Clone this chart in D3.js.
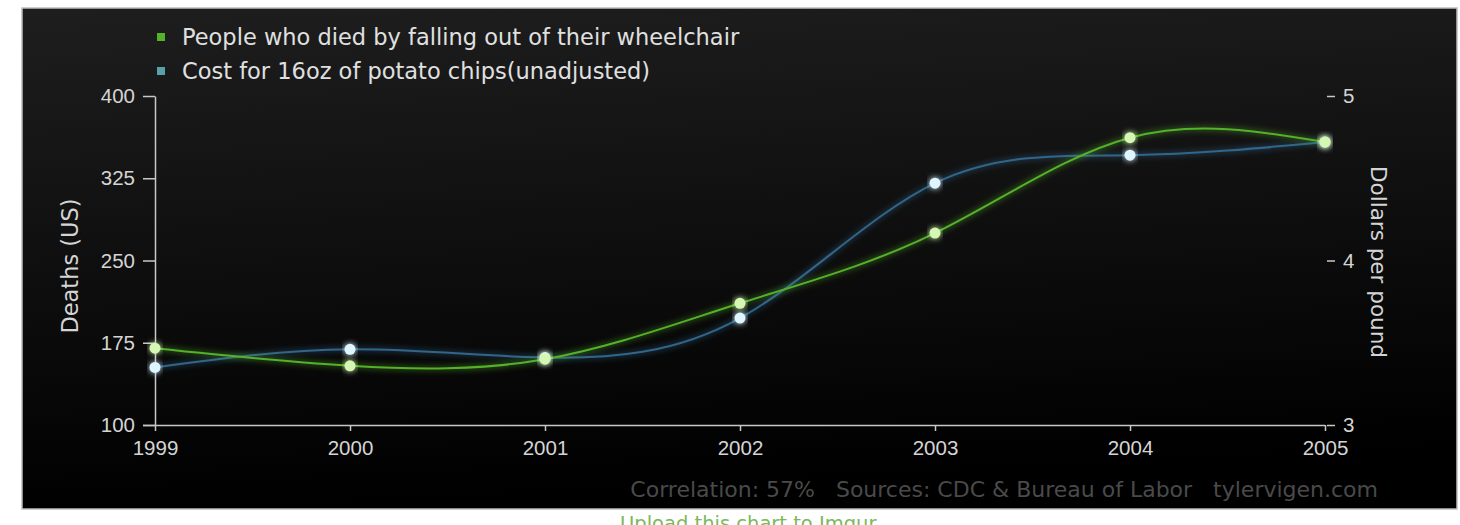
<!DOCTYPE html>
<html>
<head>
<meta charset="utf-8">
<script src="https://cdn.jsdelivr.net/npm/d3@7"></script>
<style>
  html, body { margin: 0; padding: 0; background: #fff; }
  svg { display: block; font-family: "DejaVu Sans", sans-serif; }
</style>
</head>
<body>
<svg id="chart"></svg>
<script>
// data
const years = [1999, 2000, 2001, 2002, 2003, 2004, 2005];
const deaths = [170, 154, 160, 211, 275, 362, 358];
const chipCost = [3.35, 3.46, 3.41, 3.65, 4.47, 4.64, 4.72];
const deathTicks = [100, 175, 250, 325, 400];
const costTicks = [3, 4, 5];
const legendLabels = ["People who died by falling out of their wheelchair", "Cost for 16oz of potato chips(unadjusted)"];
const footer = "Correlation: 57%   Sources: CDC & Bureau of Labor   tylervigen.com";

const width = 1460;
const height = 525;
const panel = { x: 22, y: 8, w: 1435, h: 501 };
const plotLeft = 155, plotRight = 1325, plotTop = 96, plotBottom = 425;

const green = "#55b02a", blue = "#30658a";

const svg = d3.select("#chart")
  .attr("width", width)
  .attr("height", height)
  .attr("viewBox", `0 0 ${width} ${height}`);

const defs = svg.append("defs");
const grad = defs.append("linearGradient")
  .attr("id", "bg").attr("x1", 0).attr("y1", 0).attr("x2", 0.15).attr("y2", 1);
grad.append("stop").attr("offset", "0%").attr("stop-color", "#1e1e1e");
grad.append("stop").attr("offset", "100%").attr("stop-color", "#000");

const glow = defs.append("filter").attr("id", "glow")
  .attr("x", "-20%").attr("y", "-50%").attr("width", "140%").attr("height", "200%");
glow.append("feGaussianBlur").attr("in", "SourceGraphic").attr("stdDeviation", 3).attr("result", "b");
const merge = glow.append("feMerge");
merge.append("feMergeNode").attr("in", "b");
merge.append("feMergeNode").attr("in", "SourceGraphic");

// panel
svg.append("rect")
  .attr("x", panel.x).attr("y", panel.y)
  .attr("width", panel.w).attr("height", panel.h)
  .attr("fill", "url(#bg)")
  .attr("stroke", "#bdbdbd").attr("stroke-width", 1.5);

// scales
const x = d3.scaleLinear().domain([1999, 2005]).range([plotLeft, plotRight]);
const yL = d3.scaleLinear().domain([100, 400]).range([plotBottom, plotTop]);
const yR = d3.scaleLinear().domain([3, 5]).range([plotBottom, plotTop]);

// axes
const axisColor = "#c8c8c8";
const styleAxis = g => {
  g.selectAll(".domain").attr("stroke", axisColor).attr("stroke-width", 1.5);
  g.selectAll(".tick line").attr("stroke", axisColor).attr("stroke-width", 1.5);
  g.selectAll(".tick text").attr("fill", "#d4d4d4").style("font-size", "20.5px");
};

svg.append("g")
  .attr("transform", `translate(${plotLeft},0)`)
  .call(d3.axisLeft(yL).tickValues(deathTicks).tickSize(12).tickSizeOuter(0).tickPadding(8))
  .call(styleAxis);

svg.append("g")
  .attr("transform", `translate(0,${plotBottom})`)
  .call(d3.axisBottom(x).tickValues(years).tickFormat(d3.format("d")).tickSize(6).tickSizeOuter(0).tickPadding(9))
  .call(styleAxis)
  .call(g => g.select(".domain").attr("d", `M${plotLeft - 12},0.5H${plotRight}`));

svg.append("g")
  .attr("transform", `translate(${plotRight + 2},0)`)
  .call(d3.axisRight(yR).tickValues(costTicks).tickFormat(d3.format("d")).tickSize(8).tickPadding(8))
  .call(styleAxis)
  .call(g => g.select(".domain").remove());

// axis titles
svg.append("text")
  .attr("transform", `translate(78,266) rotate(-90)`)
  .attr("text-anchor", "middle")
  .attr("fill", "#d4d4d4")
  .style("font-size", "22.5px")
  .text("Deaths (US)");

svg.append("text")
  .attr("transform", `translate(1371,262) rotate(90)`)
  .attr("text-anchor", "middle")
  .attr("fill", "#d4d4d4")
  .style("font-size", "21.5px")
  .text("Dollars per pound");

// lines
const deathLine = d3.line().curve(d3.curveNatural)
  .x((d, i) => x(years[i])).y(d => yL(d));
const costLine = d3.line().curve(d3.curveNatural)
  .x((d, i) => x(years[i])).y(d => yR(d));

svg.append("path")
  .datum(chipCost)
  .attr("d", costLine)
  .attr("fill", "none")
  .attr("stroke", blue)
  .attr("stroke-width", 2)
  .attr("filter", "url(#glow)");

svg.append("path")
  .datum(deaths)
  .attr("d", deathLine)
  .attr("fill", "none")
  .attr("stroke", green)
  .attr("stroke-width", 2)
  .attr("filter", "url(#glow)");

// points
svg.append("g")
  .selectAll("circle")
  .data(chipCost)
  .join("circle")
    .attr("cx", (d, i) => x(years[i]))
    .attr("cy", d => yR(d))
    .attr("r", 5.5)
    .attr("fill", "#dff5ff")
    .attr("filter", "url(#glow)");

svg.append("g")
  .selectAll("circle")
  .data(deaths)
  .join("circle")
    .attr("cx", (d, i) => x(years[i]))
    .attr("cy", d => yL(d))
    .attr("r", 5.5)
    .attr("fill", "#d4f7b4")
    .attr("filter", "url(#glow)");

// legend
const legend = svg.append("g");
[green, "#5aa0a8"].forEach((c, i) => {
  legend.append("rect")
    .attr("x", 157).attr("y", 33 + i * 34)
    .attr("width", 8).attr("height", 8)
    .attr("fill", c);
  legend.append("text")
    .attr("x", 182).attr("y", 45 + i * 34)
    .attr("fill", "#e0e0e0")
    .style("font-size", "22.5px")
    .text(legendLabels[i]);
});

// footer
svg.append("text")
  .attr("x", 1378).attr("y", 497)
  .attr("text-anchor", "end")
  .attr("fill", "#4a4a4a")
  .style("font-size", "22px")
  .style("white-space", "pre")
  .text(footer);

svg.append("text")
  .attr("x", 620).attr("y", 530)
  .attr("fill", "#7cb85a")
  .style("font-size", "19.5px")
  .text("Upload this chart to Imgur");
</script>
</body>
</html>
